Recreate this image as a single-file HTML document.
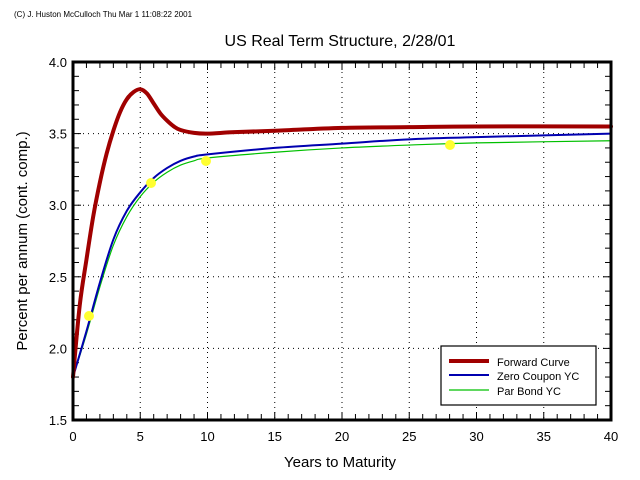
<!DOCTYPE html>
<html><head><style>body{margin:0;background:#fff}svg{display:block}text{font-family:"Liberation Sans",sans-serif;fill:#000}</style></head>
<body>
<svg id="s" width="640" height="480" xmlns="http://www.w3.org/2000/svg">
<text x="14" y="17" font-size="8">(C) J. Huston McCulloch Thu Mar  1 11:08:22 2001</text>
<text x="340" y="46" font-size="16" text-anchor="middle">US Real Term Structure, 2/28/01</text>
<text x="340" y="467" font-size="15" text-anchor="middle">Years to Maturity</text>
<text transform="translate(27,241) rotate(-90)" font-size="15" text-anchor="middle">Percent per annum (cont. comp.)</text>
<g id="grid"></g>
<g id="curves" fill="none" stroke-linejoin="round" stroke-linecap="round"></g>
<g fill="#ffff30">
<circle cx="89" cy="316" r="5"/><circle cx="151" cy="183" r="5"/><circle cx="206" cy="161" r="5"/><circle cx="450" cy="145" r="5"/>
</g>
<rect x="73" y="62" width="538" height="358" fill="none" stroke="#000" stroke-width="3"/>
<rect x="441" y="346" width="155" height="59" fill="#fff" stroke="#000" stroke-width="1.2"/>
<line x1="449" y1="361" x2="489" y2="361" stroke="#a00000" stroke-width="4"/>
<line x1="449" y1="375" x2="489" y2="375" stroke="#0000b0" stroke-width="2"/>
<line x1="449" y1="390" x2="489" y2="390" stroke="#00c000" stroke-width="1.2"/>
<text x="497" y="366" font-size="11">Forward Curve</text>
<text x="497" y="380" font-size="11">Zero Coupon YC</text>
<text x="497" y="395" font-size="11">Par Bond YC</text>
</svg>
<script>
var g=document.getElementById('grid'),h='';
function X(v){return 73+v*13.45}function Y(v){return 62+(4-v)*143.2}
for(var i=0;i<=40;i++){var x=X(i);h+='<line x1="'+x+'" y1="62" x2="'+x+'" y2="'+(i%5?68:70)+'" stroke="#000"/><line x1="'+x+'" y1="420" x2="'+x+'" y2="'+(i%5?414:412)+'" stroke="#000"/>';
if(i%5==0){if(i>0&&i<40)h+='<line x1="'+x+'" y1="62" x2="'+x+'" y2="420" stroke="#000" stroke-dasharray="1,4"/>';h+='<text x="'+x+'" y="441" font-size="13" text-anchor="middle">'+i+'</text>';}}
for(var j=0;j<=25;j++){var v=1.5+j*0.1,y=Y(v);h+='<line x1="73" y1="'+y+'" x2="'+(j%5?79:81)+'" y2="'+y+'" stroke="#000"/><line x1="611" y1="'+y+'" x2="'+(j%5?605:603)+'" y2="'+y+'" stroke="#000"/>';
if(j%5==0){if(j>0&&j<25)h+='<line x1="73" y1="'+y+'" x2="611" y2="'+y+'" stroke="#000" stroke-dasharray="1,4"/>';h+='<text x="67" y="'+(y+5)+'" font-size="13" text-anchor="end">'+v.toFixed(1)+'</text>';}}
g.innerHTML=h;
function path(d){var p=d.map(function(a){return [X(a[0]),Y(a[1])]});var s='M'+p[0][0]+','+p[0][1];
for(var k=0;k<p.length-1;k++){var p0=p[k-1]||p[k],p1=p[k],p2=p[k+1],p3=p[k+2]||p2;
s+=' C'+(p1[0]+(p2[0]-p0[0])/6)+','+(p1[1]+(p2[1]-p0[1])/6)+' '+(p2[0]-(p3[0]-p1[0])/6)+','+(p2[1]-(p3[1]-p1[1])/6)+' '+p2[0]+','+p2[1];}return s;}
var par=[[0,1.8],[1,2.1],[2,2.43],[3,2.72],[4,2.92],[5,3.06],[6,3.16],[7,3.23],[8,3.28],[9,3.31],[10,3.33],[15,3.37],[20,3.4],[25,3.42],[30,3.435],[40,3.45]];
var zero=[[0,1.8],[1,2.12],[2,2.46],[3,2.76],[4,2.96],[5,3.09],[6,3.19],[7,3.26],[8,3.31],[9,3.34],[10,3.355],[15,3.4],[20,3.43],[25,3.46],[30,3.475],[40,3.5]];
var fwd=[[0,1.8],[0.5,2.3],[1,2.62],[1.5,2.92],[2,3.16],[2.5,3.36],[3,3.52],[3.5,3.65],[4,3.74],[4.5,3.79],[5,3.81],[5.5,3.78],[6,3.71],[6.5,3.64],[7,3.59],[7.5,3.55],[8,3.525],[9,3.505],[10,3.5],[12,3.51],[15,3.52],[20,3.54],[25,3.545],[30,3.55],[40,3.55]];
document.getElementById('curves').innerHTML='<path d="'+path(par)+'" stroke="#00c000" stroke-width="1.2"/><path d="'+path(zero)+'" stroke="#0000b0" stroke-width="2"/><path d="'+path(fwd)+'" stroke="#a00000" stroke-width="4"/>';
</script>
</body></html>
